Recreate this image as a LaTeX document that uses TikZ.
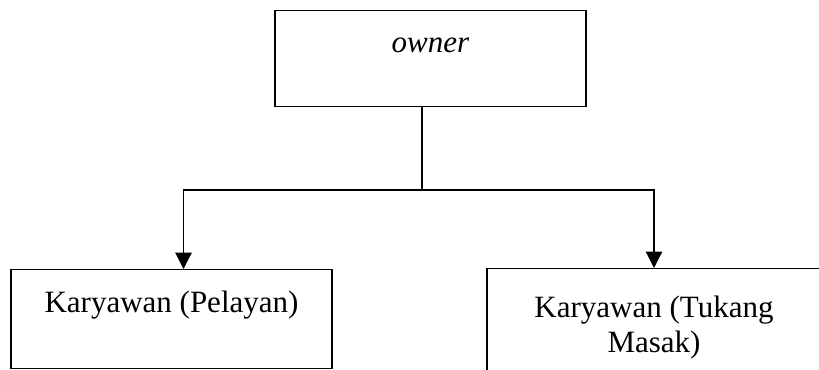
\documentclass[tikz,border=0pt]{standalone}
\usepackage{fontspec}
\setmainfont{Liberation Serif}
\usetikzlibrary{arrows.meta}
\begin{document}
\begin{tikzpicture}[x=0.4pt, y=-0.4pt,
  box/.style={draw, line width=0.6pt, inner sep=0pt, align=center, font=\fontsize{12.4}{14}\selectfont},
  link/.style={line width=0.5pt}]
\useasboundingbox (0,0) rectangle (819,370);
\node[box, anchor=north, minimum width=124.4pt, text height=16.8pt, text depth=21.6pt] (owner) at (430.5,10) {\textit{owner}};
\node[box, anchor=north, minimum width=128.4pt, text height=17.2pt, text depth=22.4pt] (pelayan) at (171.5,269) {Karyawan (Pelayan)};
\node[box, anchor=north, minimum width=133.6pt, text height=19.6pt, text depth=25.2pt] (masak) at (654,268)
  {\parbox[t]{120pt}{\centering Karyawan (Tukang\\Masak)}};

\coordinate (split) at (422,190);
\draw[link] (owner.south -| split) -- (split);
\draw[link, -{Triangle[width=6.5pt, length=6.5pt]}] (split) -| ([xshift=4.8pt]pelayan.north);
\draw[link, -{Triangle[width=6.5pt, length=6.5pt]}] (split) -| (masak.north);
\end{tikzpicture}
\end{document}
